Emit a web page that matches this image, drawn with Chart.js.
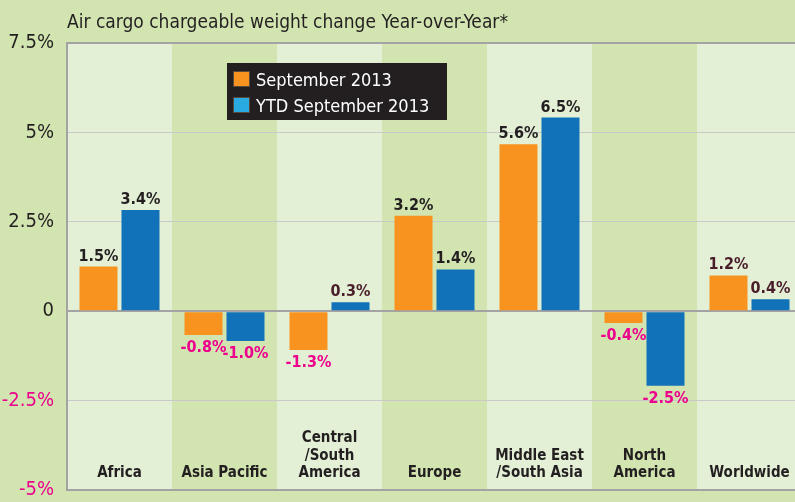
<!DOCTYPE html>
<html>
<head>
<meta charset="utf-8">
<script src="https://cdn.jsdelivr.net/npm/chart.js@4.4.1/dist/chart.umd.min.js"></script>
<style>
  html, body { margin: 0; padding: 0; overflow: hidden; background: #d2e5b1; }
  #wrap { width: 802px; height: 502px; }
</style>
</head>
<body>
<div id="wrap"><canvas id="c" width="802" height="502"></canvas></div>
<script>
// ---- data ----
const titleText = "Air cargo chargeable weight change Year-over-Year*";
const categories = [["Africa"], ["Asia Pacific"], ["Central", "/South", "America"], ["Europe"], ["Middle East", "/South Asia"], ["North", "America"], ["Worldwide"]];
const seriesNames = ["September 2013", "YTD September 2013"];
const september2013 = [1.5, -0.8, -1.3, 3.2, 5.6, -0.4, 1.2];
const ytdSeptember2013 = [3.4, -1.0, 0.3, 1.4, 6.5, -2.5, 0.4];
// tick labels as printed on the reference (bottom to top)
const tickLabels = ["-5%", "-2.5%", "0", "2.5%", "5%", "7.5%"];

// ---- styles ----
const darkBg = "#d2e5b1";
const lightBg = "#e3f0d6";
const orange = "#f7931e";
const blue = "#1172b9";
const legendBlue = "#29abe2";
const ink = "#231f20";
const maroon = "#4a1d2a";
const magenta = "#ec008c";
const narrowFont = "'Liberation Sans Narrow', 'DejaVu Sans Condensed', sans-serif";
const condFont = "'DejaVu Sans Condensed', 'DejaVu Sans', sans-serif";
const maroonLabels = { "0-6": true, "1-2": true, "1-6": true };

const decorPlugin = {
  id: "decor",
  beforeDraw(chart) {
    const { ctx, chartArea: a } = chart;
    ctx.save();
    ctx.fillStyle = darkBg;
    ctx.fillRect(0, 0, chart.width, chart.height);
    const w = a.width / categories.length;
    categories.forEach((c, i) => {
      ctx.fillStyle = i % 2 === 0 ? lightBg : darkBg;
      ctx.fillRect(a.left + i * w, a.top, w, a.bottom - a.top);
    });
    // title
    ctx.fillStyle = ink;
    ctx.font = "19px " + narrowFont;
    ctx.textAlign = "left";
    ctx.textBaseline = "alphabetic";
    ctx.fillText(titleText, a.left, 28);
    ctx.restore();
  },
  afterDatasetsDraw(chart) {
    const { ctx, chartArea: a, scales: { x } } = chart;
    ctx.save();
    // value labels
    ctx.font = "bold 16px " + condFont;
    ctx.textAlign = "center";
    ctx.textBaseline = "alphabetic";
    chart.data.datasets.forEach((ds, di) => {
      const meta = chart.getDatasetMeta(di);
      meta.data.forEach((el, i) => {
        const v = ds.data[i];
        const txt = v.toFixed(1) + "%";
        if (v >= 0) {
          ctx.fillStyle = maroonLabels[di + "-" + i] ? maroon : ink;
          ctx.fillText(txt, el.x, el.y - 6);
        } else {
          ctx.fillStyle = magenta;
          ctx.fillText(txt, el.x, el.y + 17);
        }
      });
    });
    // category labels inside plot bottom
    ctx.fillStyle = ink;
    ctx.font = "bold 15px " + condFont;
    categories.forEach((lines, i) => {
      const cx = x.getPixelForValue(i);
      const n = lines.length;
      lines.forEach((ln, k) => {
        ctx.fillText(ln, cx, 477 - (n - 1 - k) * 17.5);
      });
    });
    // legend box
    ctx.fillStyle = ink;
    ctx.fillRect(227, 63, 220, 57);
    const sw = [orange, legendBlue];
    seriesNames.forEach((name, k) => {
      const y0 = 71 + k * 26;
      ctx.fillStyle = sw[k];
      ctx.fillRect(233, y0, 17, 16);
      ctx.strokeStyle = "#5a4a3a";
      ctx.lineWidth = 1;
      ctx.strokeRect(233.5, y0 + 0.5, 16, 15);
      ctx.fillStyle = "#ffffff";
      ctx.font = "18px " + condFont;
      ctx.textAlign = "left";
      ctx.fillText(name, 256, y0 + 14.5);
    });
    ctx.restore();
  }
};

new Chart(document.getElementById("c"), {
  type: "bar",
  data: {
    labels: categories,
    datasets: [
      { label: seriesNames[0], data: september2013, backgroundColor: orange, categoryPercentage: 0.8, barPercentage: 0.905 },
      { label: seriesNames[1], data: ytdSeptember2013, backgroundColor: blue, categoryPercentage: 0.8, barPercentage: 0.905 }
    ]
  },
  options: {
    responsive: false,
    animation: false,
    devicePixelRatio: 1,
    layout: { padding: { top: 43, bottom: 12, left: 0, right: 0 } },
    plugins: { legend: { display: false }, tooltip: { enabled: false }, title: { display: false } },
    scales: {
      x: { display: false },
      y: {
        min: -6, max: 9,
        afterFit(scale) { scale.width = 67; scale.paddingTop = 0; scale.paddingBottom = 0; },
        border: { display: true, color: "#a3a3a3", width: 2 },
        grid: {
          drawTicks: false,
          color: (c) => (c.tick.value === 0 || c.tick.value === 9 || c.tick.value === -6) ? "#a3a3a3" : "#c9c9c9",
          lineWidth: (c) => (c.tick.value === 0 || c.tick.value === 9 || c.tick.value === -6) ? 2 : 1
        },
        ticks: {
          stepSize: 3,
          padding: 13,
          font: { family: narrowFont, size: 20 },
          color: (c) => c.tick.value < 0 ? magenta : ink,
          callback: (value, index) => tickLabels[index]
        }
      }
    }
  },
  plugins: [decorPlugin]
});
</script>
</body>
</html>
